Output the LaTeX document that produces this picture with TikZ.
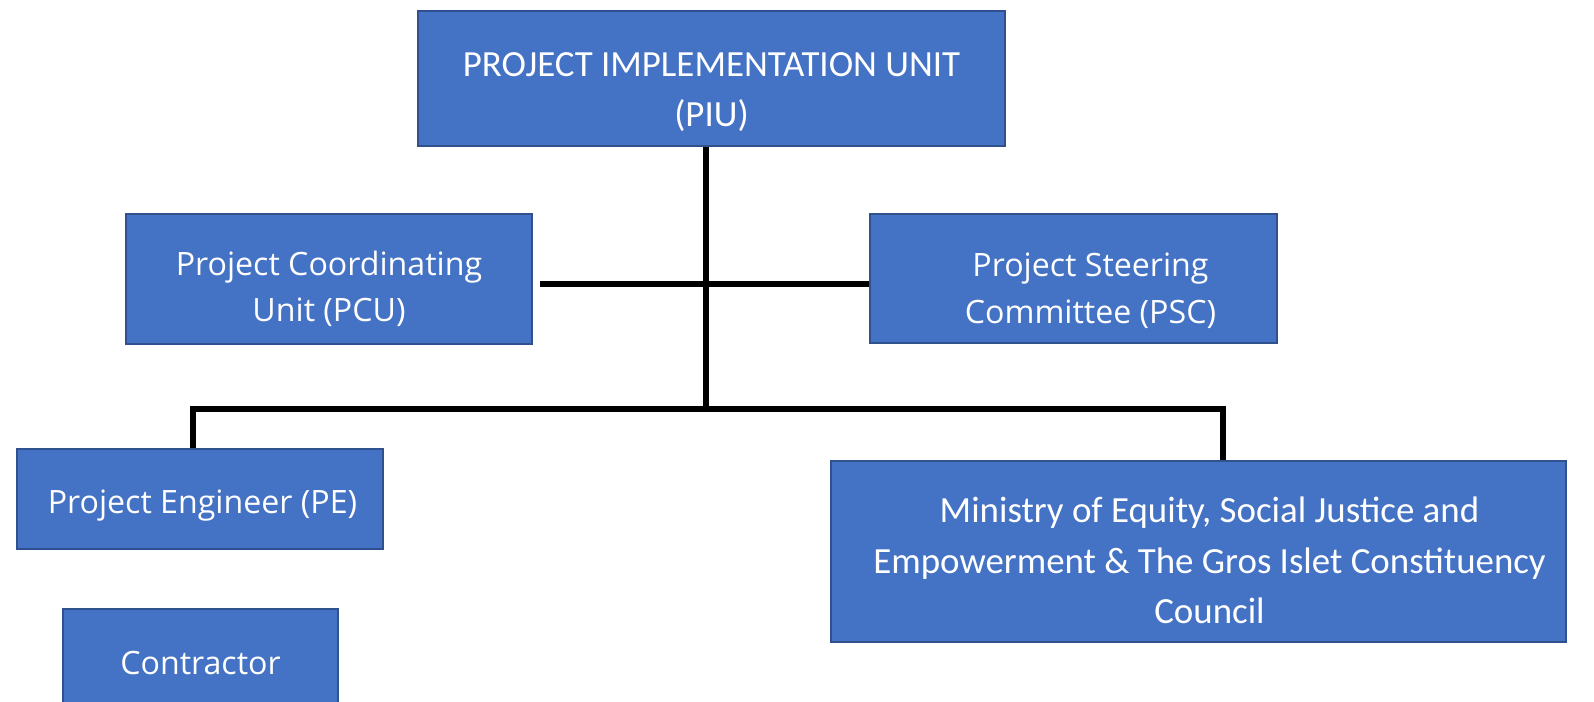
\documentclass[tikz,border=0pt]{standalone}
\usepackage{fontspec}
\setmainfont{Carlito}
\newfontfamily\segoe{Open Sans}
\usetikzlibrary{positioning}

\definecolor{unitblue}{HTML}{4472C4}
\definecolor{unitedge}{HTML}{2F528F}

\begin{document}
\begin{tikzpicture}
  [unit/.style={rectangle,draw=unitedge,fill=unitblue,line width=1pt,inner sep=0pt},
   caption/.style={text=white,align=center,inner sep=0pt},
   calibri/.style={font=\fontsize{21}{28.8}\selectfont},
   segoeui/.style={font=\segoe\fontsize{18.3}{26.5}\selectfont},
   link/.style={line width=3.4pt,black}]
  \useasboundingbox (0,0) rectangle (31.88,-14.04);
  % boxes
  \node (piu) at (14.23,-1.57) [unit,minimum width=11.74cm,minimum height=2.70cm] {};
  \node (pcu) at (6.58,-5.58) [unit,minimum width=8.12cm,minimum height=2.60cm] {};
  \node (psc) at (21.47,-5.57) [unit,minimum width=8.14cm,minimum height=2.58cm] {};
  \node (pe) at (4.00,-9.98) [unit,minimum width=7.32cm,minimum height=2.00cm] {};
  \node (min) at (23.97,-11.03) [unit,minimum width=14.70cm,minimum height=3.62cm] {};
  \node (con) at (4.01,-13.18) [unit,minimum width=5.50cm,minimum height=2.00cm] {};

  % texts
  \node (piu-t) at ([yshift=-0.27cm]piu.center) [caption,calibri]
    {PROJECT IMPLEMENTATION UNIT\\(PIU)};
  \node (pcu-t) at ([yshift=-0.20cm]pcu.center) [caption,segoeui]
    {Project Coordinating\\Unit (PCU)};
  \node (psc-t) at ([xshift=0.34cm,yshift=-0.24cm]psc.center) [caption,segoeui]
    {Project Steering\\Committee (PSC)};
  \node (pe-t) at ([xshift=0.05cm,yshift=-0.14cm]pe.center) [caption,segoeui]
    {Project Engineer (PE)};
  \node (min-t) at ([xshift=0.22cm,yshift=-0.18cm]min.center) [caption,calibri]
    {Ministry of Equity, Social Justice and\\Empowerment \& The Gros Islet Constituency\\Council};
  \node (con-t) at ([yshift=-0.08cm]con.center) [caption,segoeui] {Contractor};

  % bus lines
  \coordinate (hub) at (14.12,-8.18);
  \coordinate (cross) at (14.12,-5.68);
  \coordinate (pcuend) at (10.80,-5.68);
  \coordinate (busl) at (3.86,-8.18);
  \coordinate (busr) at (24.46,-8.18);
  \draw[link] (piu.south -| hub) -- (hub);
  \draw[link] (pcuend) -- (psc.west |- cross);
  \draw[link] (pe.north -| busl) -- (busl) -- (busr) -- (min.north -| busr);
\end{tikzpicture}
\end{document}
